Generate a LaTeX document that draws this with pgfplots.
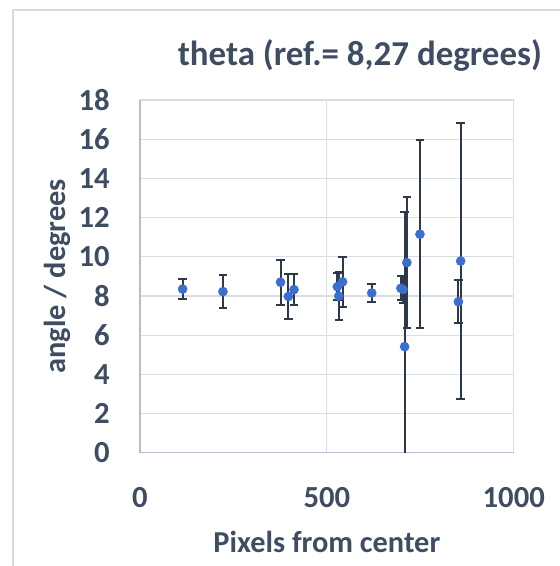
\documentclass[border=0pt]{standalone}
\usepackage{pgfplots}
\pgfplotsset{compat=1.18}
\usepackage{fontspec}
\setmainfont{Carlito}
\definecolor{txt}{HTML}{3F4D63}
\definecolor{dotblue}{HTML}{3C6ED0}
\definecolor{barcol}{HTML}{2D3849}
\definecolor{gridcol}{HTML}{D9DEE6}
\definecolor{axcol}{HTML}{B4BED0}
\definecolor{framecol}{HTML}{D9D9D9}

\pgfplotstableread{
x y err
114 8.35 0.52
222 8.22 0.83
376 8.70 1.15
397 7.97 1.15
412 8.32 0.78
528 8.47 0.70
532 7.99 1.22
542 8.72 1.28
620 8.15 0.45
698 8.39 0.62
704 8.33 0.70
708 5.41 6.86
714 9.70 3.35
749 11.15 4.80
852 7.70 1.10
858 9.78 7.05
}\thetadata

\begin{document}
\begin{tikzpicture}
\useasboundingbox (-105pt,-85pt) rectangle (314.25pt,339.5pt);
\draw[framecol, line width=0.9pt] (-95.25pt,-100pt) -- (-95.25pt,332pt) -- (330pt,332pt);
\begin{axis}[
  name=ax, at={(0,0)}, anchor=south west,
  scale only axis, width=280.3pt, height=264.5pt,
  xmin=0, xmax=1000, ymin=0, ymax=18,
  xtick={0,500,1000}, ytick={0,2,...,18},
  grid=major, grid style={gridcol, line width=0.9pt},
  axis x line*=bottom, axis y line*=left,
  axis line style={axcol, line width=1pt},
  tick style={draw=none},
  /pgf/number format/assume math mode=true,
  /pgf/number format/1000 sep={},
  ticklabel style={font=\fontsize{23}{25}\selectfont\bfseries, text=txt, inner sep=0pt},
  yticklabel style={anchor=east, xshift=-22.5pt},
  xticklabel style={anchor=center, yshift=-34pt},
  clip=true,
]
\addplot[only marks, mark=none, error bars/.cd, y dir=both, y explicit,
  error bar style={barcol, line width=1.5pt},
  error mark options={barcol, line width=1.5pt, mark size=3.2pt, rotate=90}]
  table[x=x, y=y, y error=err] {\thetadata};
\addplot[only marks, mark=*, mark size=3.4pt, color=dotblue, mark options={draw=dotblue, fill=dotblue}]
  table[x=x, y=y] {\thetadata};
\end{axis}
\node[font=\fontsize{22.8}{25}\selectfont\bfseries, text=txt, anchor=center, yshift=-67pt]
  at (ax.south) {Pixels from center};
\node[font=\fontsize{22.8}{25}\selectfont\bfseries, text=txt, anchor=center, xshift=-62.25pt, rotate=90]
  at (ax.west) {angle / degrees};
\node[font=\fontsize{26.2}{29}\selectfont\bfseries, text=txt, anchor=center, xshift=24.75pt, yshift=33pt]
  at (ax.north) {theta (ref.= 8,27 degrees)};
\end{tikzpicture}
\end{document}
